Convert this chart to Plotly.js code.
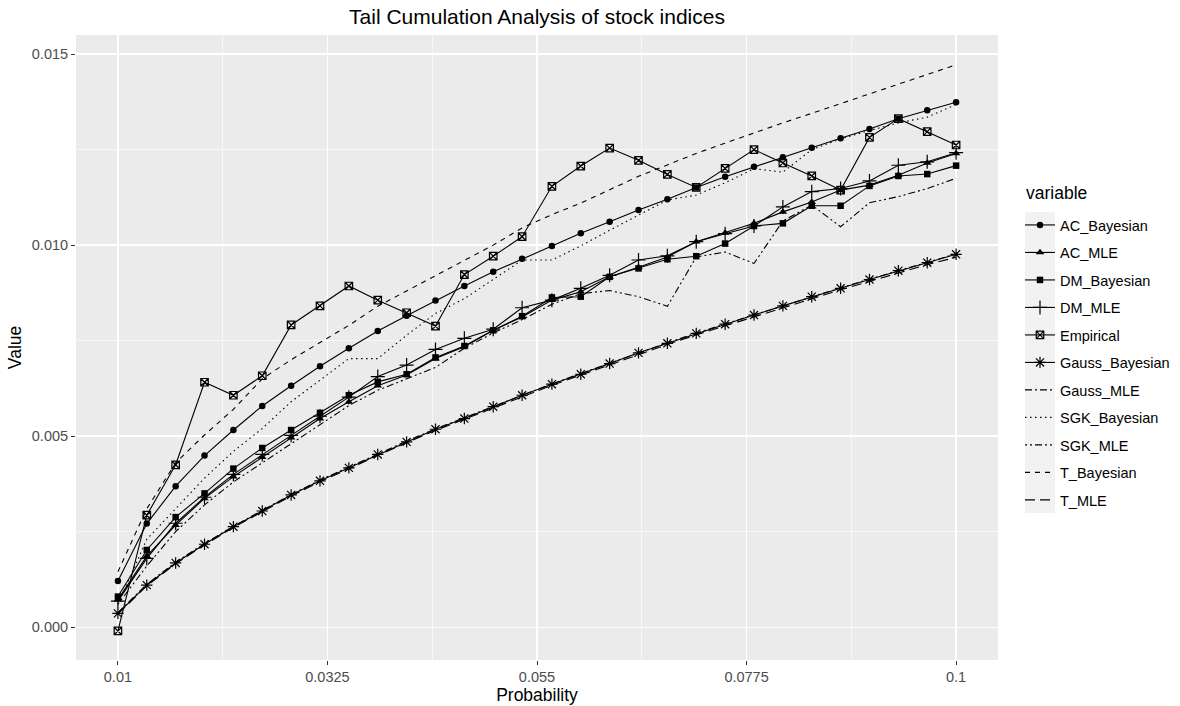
<!DOCTYPE html>
<html>
<head>
<meta charset="utf-8">
<script src="https://cdn.plot.ly/plotly-3.0.1.min.js"></script>
<style>html,body{margin:0;padding:0;background:#fff;}#chart{width:1180px;height:706px;}</style>
</head>
<body>
<div id="chart"></div>
<script>
// ---- data ----
const probability = [0.0100,0.0131,0.0162,0.0193,0.0224,0.0255,0.0286,0.0317,0.0348,0.0379,0.0410,0.0441,0.0472,0.0503,0.0534,0.0566,0.0597,0.0628,0.0659,0.0690,0.0721,0.0752,0.0783,0.0814,0.0845,0.0876,0.0907,0.0938,0.0969,0.1000];

const AC_Bayesian = [0.00121,0.00271,0.00369,0.00449,0.00516,0.00579,0.00632,0.00683,0.00730,0.00775,0.00815,0.00855,0.00893,0.00930,0.00964,0.00998,0.01031,0.01061,0.01092,0.01120,0.01151,0.01179,0.01205,0.01230,0.01255,0.01280,0.01304,0.01331,0.01353,0.01374];
const AC_MLE = [0.00072,0.00186,0.00267,0.00337,0.00394,0.00445,0.00496,0.00546,0.00590,0.00632,0.00660,0.00703,0.00734,0.00777,0.00812,0.00856,0.00878,0.00917,0.00942,0.00969,0.01009,0.01032,0.01057,0.01087,0.01113,0.01144,0.01157,0.01183,0.01215,0.01240];
const DM_Bayesian = [0.00080,0.00202,0.00288,0.00350,0.00415,0.00469,0.00516,0.00561,0.00607,0.00642,0.00662,0.00706,0.00736,0.00777,0.00814,0.00863,0.00865,0.00917,0.00939,0.00963,0.00971,0.01004,0.01050,0.01057,0.01103,0.01103,0.01155,0.01181,0.01186,0.01208];
const DM_MLE = [0.00068,0.00180,0.00272,0.00340,0.00400,0.00452,0.00502,0.00552,0.00602,0.00656,0.00686,0.00727,0.00756,0.00780,0.00836,0.00856,0.00887,0.00921,0.00961,0.00972,0.01009,0.01030,0.01050,0.01100,0.01140,0.01148,0.01168,0.01209,0.01218,0.01242];
const Empirical = [-0.00010,0.00293,0.00425,0.00641,0.00607,0.00658,0.00791,0.00841,0.00893,0.00856,0.00823,0.00788,0.00923,0.00971,0.01022,0.01154,0.01207,0.01254,0.01222,0.01185,0.01151,0.01201,0.01250,0.01215,0.01181,0.01144,0.01282,0.01331,0.01297,0.01262];
const Gauss_Bayesian = [0.00036,0.00110,0.00168,0.00217,0.00263,0.00304,0.00346,0.00383,0.00417,0.00452,0.00485,0.00518,0.00546,0.00577,0.00607,0.00636,0.00662,0.00690,0.00718,0.00743,0.00769,0.00793,0.00817,0.00841,0.00865,0.00887,0.00910,0.00933,0.00954,0.00976];
const Gauss_MLE = [0.00038,0.00112,0.00170,0.00219,0.00264,0.00306,0.00347,0.00385,0.00419,0.00454,0.00487,0.00519,0.00548,0.00578,0.00608,0.00637,0.00664,0.00691,0.00719,0.00744,0.00770,0.00794,0.00818,0.00842,0.00866,0.00888,0.00911,0.00934,0.00955,0.00977];
const SGK_Bayesian = [0.00060,0.00230,0.00310,0.00390,0.00460,0.00520,0.00590,0.00647,0.00703,0.00703,0.00764,0.00821,0.00860,0.00910,0.00961,0.00961,0.00998,0.01039,0.01079,0.01118,0.01131,0.01163,0.01200,0.01191,0.01250,0.01278,0.01300,0.01320,0.01335,0.01368];
const SGK_MLE = [0.00060,0.00160,0.00250,0.00320,0.00380,0.00430,0.00480,0.00530,0.00580,0.00620,0.00650,0.00680,0.00730,0.00770,0.00805,0.00845,0.00873,0.00881,0.00865,0.00840,0.00969,0.00982,0.00952,0.01063,0.01105,0.01048,0.01111,0.01127,0.01148,0.01175];
const T_Bayesian = [0.00145,0.00310,0.00430,0.00503,0.00570,0.00650,0.00700,0.00745,0.00790,0.00840,0.00880,0.00920,0.00960,0.01000,0.01045,0.01080,0.01110,0.01145,0.01180,0.01210,0.01240,0.01267,0.01294,0.01320,0.01345,0.01370,0.01395,0.01420,0.01447,0.01472];
const T_MLE = [0.00034,0.00108,0.00166,0.00215,0.00261,0.00302,0.00343,0.00381,0.00414,0.00450,0.00483,0.00515,0.00544,0.00574,0.00604,0.00633,0.00660,0.00687,0.00714,0.00740,0.00765,0.00789,0.00813,0.00837,0.00860,0.00883,0.00905,0.00928,0.00949,0.00968];

const seriesNames = ["AC_Bayesian","AC_MLE","DM_Bayesian","DM_MLE","Empirical","Gauss_Bayesian","Gauss_MLE","SGK_Bayesian","SGK_MLE","T_Bayesian","T_MLE"];
const seriesValues = [AC_Bayesian,AC_MLE,DM_Bayesian,DM_MLE,Empirical,Gauss_Bayesian,Gauss_MLE,SGK_Bayesian,SGK_MLE,T_Bayesian,T_MLE];

const xTickVals = [0.01,0.0325,0.055,0.0775,0.1];
const xTickText = ["0.01","0.0325","0.055","0.0775","0.1"];
const xMinorVals = [0.02125,0.04375,0.06625,0.08875];
const yTickVals = [0,0.005,0.01,0.015];
const yTickText = ["0.000","0.005","0.010","0.015"];
const yMinorVals = [0.0025,0.0075,0.0125];

// ---- styles ----
const styles = {
  AC_Bayesian:   {mode:"lines+markers", dash:"solid", marker:{symbol:"circle", size:6.5, color:"black"}},
  AC_MLE:        {mode:"lines+markers", dash:"solid", marker:{symbol:"triangle-up", size:7.5, color:"black"}},
  DM_Bayesian:   {mode:"lines+markers", dash:"solid", marker:{symbol:"square", size:6.5, color:"black"}},
  DM_MLE:        {mode:"lines+markers", dash:"solid", marker:{symbol:"cross-thin-open", size:10, color:"black", line:{width:1.2, color:"black"}}},
  Empirical:     {mode:"lines+markers", dash:"solid", marker:{symbol:"square-x-open", size:7.5, color:"black", line:{width:1.2, color:"black"}}},
  Gauss_Bayesian:{mode:"lines+markers", dash:"solid", marker:{symbol:"asterisk-open", size:9.5, color:"black", line:{width:1.2, color:"black"}}},
  Gauss_MLE:     {mode:"lines", dash:"7px,3px,2px,3px"},
  SGK_Bayesian:  {mode:"lines", dash:"1.5px,3.5px"},
  SGK_MLE:       {mode:"lines", dash:"2px,3px,2px,3px,7px,3px"},
  T_Bayesian:    {mode:"lines", dash:"5px,5px"},
  T_MLE:         {mode:"lines", dash:"10px,5px"}
};

const traces = seriesNames.map((name, k) => {
  const s = styles[name];
  const t = {
    type:"scatter", x: probability, y: seriesValues[k], name: name,
    legendgroup: name, mode: s.mode,
    line:{color:"black", width:1.1, dash:s.dash},
    hoverinfo:"x+y+name"
  };
  if (s.marker) t.marker = s.marker;
  return t;
});

const W = 1180, H = 706, L = 76, R = 182, T = 35, B = 46;
const pw = W - L - R, ph = H - T - B;
const px2x = p => (p - L) / pw;
const py2y = p => (H - B - p) / ph;

const fontFam = "Liberation Sans, Arial, sans-serif";

const layout = {
  width: W, height: H,
  margin:{l:L, r:R, t:T, b:B, pad:0, autoexpand:false},
  paper_bgcolor:"white", plot_bgcolor:"#EBEBEB",
  font:{family:fontFam, color:"black"},
  title:{text:"Tail Cumulation Analysis of stock indices", font:{size:21, color:"black"}, x:0.5, xref:"paper", xanchor:"center", y:1-17/H, yref:"container", yanchor:"middle"},
  xaxis:{
    range:[0.0055,0.1045], tickmode:"array", tickvals:xTickVals, ticktext:xTickText,
    ticks:"outside", ticklen:4, tickwidth:1, tickcolor:"#333333",
    tickfont:{size:14.5, color:"#4D4D4D"},
    showgrid:true, gridcolor:"white", gridwidth:1.3, zeroline:false, showline:false,
    minor:{tickmode:"array", tickvals:xMinorVals, showgrid:true, gridcolor:"white", gridwidth:0.6, ticks:""},
    title:{text:"Probability", font:{size:17.5, color:"black"}, standoff:1},
    automargin:false
  },
  yaxis:{
    range:[-0.00086,0.01550], tickmode:"array", tickvals:yTickVals, ticktext:yTickText,
    ticks:"outside", ticklen:4, tickwidth:1, tickcolor:"#333333",
    tickfont:{size:14.5, color:"#4D4D4D"},
    showgrid:true, gridcolor:"white", gridwidth:1.3, zeroline:false, showline:false,
    minor:{tickmode:"array", tickvals:yMinorVals, showgrid:true, gridcolor:"white", gridwidth:0.6, ticks:""},
    title:{text:"Value", font:{size:17.5, color:"black"}, standoff:5},
    automargin:false
  },
  legend:{
    x:px2x(1020), xanchor:"left", y:py2y(209), yanchor:"top",
    bgcolor:"rgba(0,0,0,0)", borderwidth:0,
    font:{size:14.5, color:"black"},
    traceorder:"grouped", tracegroupgap:5.65
  },
  annotations:[{
    text:"variable", xref:"paper", yref:"paper", x:px2x(1024), y:py2y(193),
    xanchor:"left", yanchor:"middle", showarrow:false,
    font:{size:17.5, color:"black"}
  }],
  shapes:[{
    type:"rect", xref:"paper", yref:"paper", layer:"below",
    x0:px2x(1025), x1:px2x(1055), y0:py2y(513), y1:py2y(212),
    fillcolor:"#F2F2F2", line:{width:0}
  }],
  showlegend:true
};

Plotly.newPlot("chart", traces, layout, {displayModeBar:false, staticPlot:true});
</script>
</body>
</html>
